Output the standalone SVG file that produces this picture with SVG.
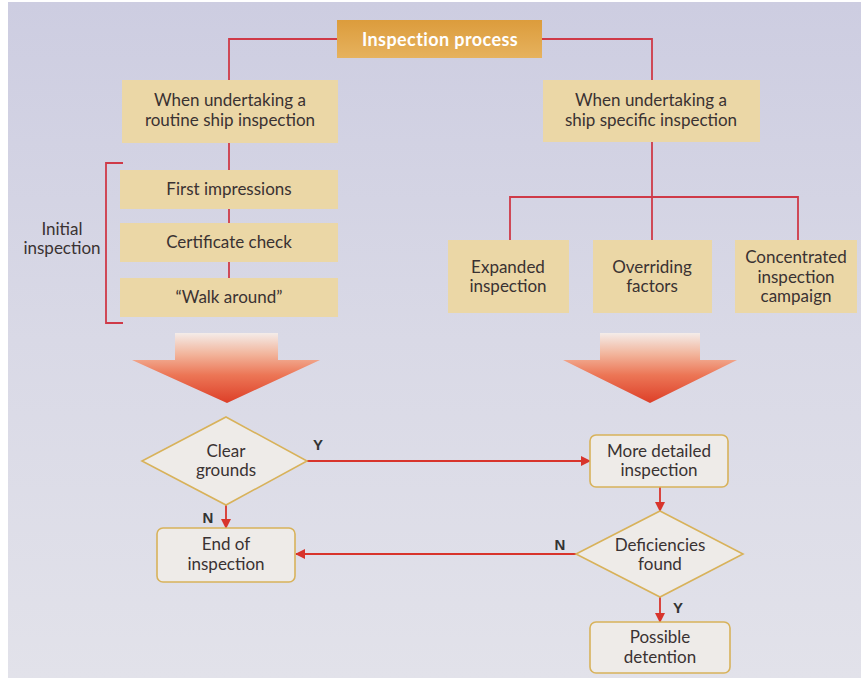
<svg xmlns="http://www.w3.org/2000/svg" width="861" height="680" viewBox="0 0 861 680">
<defs>
<linearGradient id="bg" x1="0" y1="0" x2="0" y2="1">
<stop offset="0" stop-color="#cdcde1"/>
<stop offset="0.5" stop-color="#d9d9e6"/>
<stop offset="1" stop-color="#e2e2ea"/>
</linearGradient>
<linearGradient id="top" x1="0" y1="0" x2="0" y2="1">
<stop offset="0" stop-color="#dc9c3c"/>
<stop offset="1" stop-color="#e6b25e"/>
</linearGradient>
<linearGradient id="big" gradientUnits="userSpaceOnUse" x1="0" y1="333" x2="0" y2="403">
<stop offset="0" stop-color="#f4ece9"/>
<stop offset="0.3" stop-color="#f2b59c"/>
<stop offset="0.6" stop-color="#ec7656"/>
<stop offset="1" stop-color="#dd3f28"/>
</linearGradient>
<marker id="ah" viewBox="0 0 10 10" refX="9" refY="5" markerWidth="10" markerHeight="10" markerUnits="userSpaceOnUse" orient="auto">
<path d="M0,0 L10,5 L0,10 z" fill="#d8342c"/>
</marker>
<style>
.t{font-family:"Lato","Open Sans","Liberation Sans",sans-serif;font-size:17px;fill:#3a3232;text-anchor:middle}
.yn{font-family:"Liberation Sans",Arial,sans-serif;font-size:15px;font-weight:bold;fill:#333;text-anchor:middle}
.tan{fill:#ebd7a6}
.fb{fill:#eeebe8;stroke:#d8b25a;stroke-width:1.6}
.ln{fill:none;stroke:#cf3a48;stroke-width:1.8}
.ar{fill:none;stroke:#d8342c;stroke-width:1.8;marker-end:url(#ah)}
</style>
</defs>
<rect x="0" y="0" width="861" height="680" fill="#ffffff"/>
<rect x="8" y="2" width="853" height="676" fill="url(#bg)"/>

<g id="connectors">
<polyline class="ln" points="337,39 229,39 229,80"/>
<polyline class="ln" points="542,39 652,39 652,80"/>
<line class="ln" x1="229" y1="143" x2="229" y2="317"/>
<path class="ln" d="M123,163 H106 V323 H123"/>
<line class="ln" x1="652" y1="142" x2="652" y2="240"/>
<polyline class="ln" points="510,240 510,197 798,197 798,240"/>
<line class="ar" x1="307" y1="461" x2="590" y2="461"/>
<line class="ar" x1="226" y1="505" x2="226" y2="528"/>
<line class="ar" x1="660" y1="487" x2="660" y2="511"/>
<line class="ar" x1="576" y1="554" x2="296" y2="554"/>
<line class="ar" x1="660" y1="597" x2="660" y2="622"/>
</g>

<g id="inspection-process">
<rect x="337" y="20" width="205" height="38" fill="url(#top)"/>
<text class="t" x="440" y="46" style="fill:#ffffff;font-weight:bold;font-size:18px;letter-spacing:0.4px">Inspection process</text>
</g>
<g id="routine">
<rect class="tan" x="122" y="80" width="216" height="63"/>
<text class="t" x="230" y="106">When undertaking a</text>
<text class="t" x="230" y="126">routine ship inspection</text>
</g>
<g id="specific">
<rect class="tan" x="543" y="80" width="217" height="62"/>
<text class="t" x="651" y="106">When undertaking a</text>
<text class="t" x="651" y="126">ship specific inspection</text>
</g>
<g id="first-impressions">
<rect class="tan" x="120" y="170" width="218" height="39"/>
<text class="t" x="229" y="195">First impressions</text>
</g>
<g id="certificate-check">
<rect class="tan" x="120" y="223" width="218" height="39"/>
<text class="t" x="229" y="248">Certificate check</text>
</g>
<g id="walk-around">
<rect class="tan" x="120" y="278" width="218" height="39"/>
<text class="t" x="229" y="303">“Walk around”</text>
</g>
<g id="initial-inspection">
<text class="t" x="62" y="235">Initial</text>
<text class="t" x="62" y="254">inspection</text>
</g>
<g id="expanded">
<rect class="tan" x="448" y="240" width="121" height="73"/>
<text class="t" x="508" y="273">Expanded</text>
<text class="t" x="508" y="292">inspection</text>
</g>
<g id="overriding">
<rect class="tan" x="593" y="240" width="119" height="73"/>
<text class="t" x="652" y="273">Overriding</text>
<text class="t" x="652" y="292">factors</text>
</g>
<g id="concentrated">
<rect class="tan" x="735" y="240" width="122" height="73"/>
<text class="t" x="796" y="263">Concentrated</text>
<text class="t" x="796" y="283">inspection</text>
<text class="t" x="796" y="302">campaign</text>
</g>
<g id="arrow-left">
<polygon points="175,333 278,333 278,360 320,360 227,403 132,360 175,360" fill="url(#big)"/>
</g>
<g id="arrow-right">
<polygon points="600,333 700,333 700,360 737,360 650,403 563,360 600,360" fill="url(#big)"/>
</g>
<g id="clear-grounds">
<polygon class="fb" points="226,417 307,461 226,505 142,461"/>
<text class="t" x="226" y="457">Clear</text>
<text class="t" x="226" y="476">grounds</text>
</g>
<g id="end-of-inspection">
<rect class="fb" x="157" y="528" width="138" height="54" rx="6"/>
<text class="t" x="226" y="550">End of</text>
<text class="t" x="226" y="570">inspection</text>
</g>
<g id="more-detailed">
<rect class="fb" x="590" y="435" width="138" height="52" rx="6"/>
<text class="t" x="659" y="457">More detailed</text>
<text class="t" x="659" y="476">inspection</text>
</g>
<g id="deficiencies">
<polygon class="fb" points="660,511 743,554 660,597 576,554"/>
<text class="t" x="660" y="551">Deficiencies</text>
<text class="t" x="660" y="570">found</text>
</g>
<g id="possible-detention">
<rect class="fb" x="590" y="622" width="140" height="51" rx="6"/>
<text class="t" x="660" y="643">Possible</text>
<text class="t" x="660" y="663">detention</text>
</g>
<g id="labels">
<text class="yn" x="318" y="450">Y</text>
<text class="yn" x="208" y="523">N</text>
<text class="yn" x="560" y="550">N</text>
<text class="yn" x="678" y="613">Y</text>
</g>
</svg>
